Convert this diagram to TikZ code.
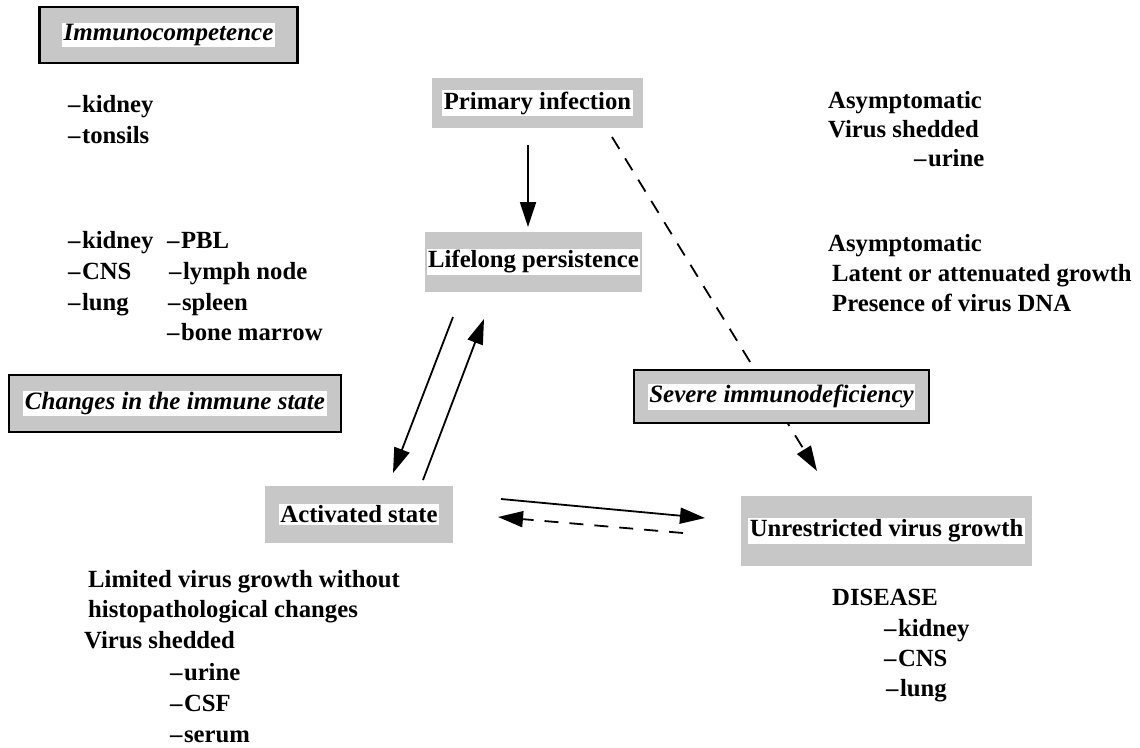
\documentclass[tikz,border=0pt]{standalone}
\usepackage{fontspec}
\setmainfont{Liberation Serif}
\usetikzlibrary{arrows.meta}
\newcommand\wbox[1]{{\setlength\fboxsep{1.5pt}\colorbox{white}{#1}}}
\newcommand\dsh{--\kern1.5pt}
\begin{document}
\begin{tikzpicture}[x=1pt,y=-1pt,
  txt/.style={anchor=base west, inner sep=0pt, font=\fontsize{24.7}{28}\selectfont\bfseries},
  shadebox/.style={fill=black!22, inner sep=0pt, font=\fontsize{24.7}{28}\selectfont\bfseries},
  framebox/.style={shadebox, draw=black, line width=2.2pt, font=\fontsize{25}{28}\selectfont\bfseries\itshape},
  conn/.style={line width=1.8pt, -{Triangle[length=25pt,width=16pt]}},
  dconn/.style={conn, dash pattern=on 14pt off 11pt},
]
\useasboundingbox (0,0) rectangle (1140,747);

% connector end points
\coordinate (pi-s) at (528,145);
\coordinate (lp-n) at (528,227);
\coordinate (pi-se) at (612,137);
\coordinate (uvg-n) at (817,471);
\coordinate (lp-sa) at (453,317);
\coordinate (as-na) at (393,473);
\coordinate (as-nb) at (423,480);
\coordinate (lp-sb) at (484,319);
\coordinate (as-ea) at (501,499);
\coordinate (uvg-wa) at (705,518);
\coordinate (uvg-wb) at (683,533);
\coordinate (as-eb) at (498,517);

% dashed link drawn first so the box covers it
\draw[dconn] (pi-se) -- (uvg-n);

% boxes
\node[framebox, minimum width=258pt, minimum height=56pt] (imm) at (168.5,35) {\wbox{Immunocompetence}};
\node[framebox, minimum width=332pt, minimum height=57pt] (chg) at (175,403.5) {\wbox{Changes in the immune state}};
\node[framebox, minimum width=295pt, minimum height=53pt] (sev) at (781.5,396.5) {\wbox{Severe immunodeficiency}};
\node[shadebox, minimum width=211pt, minimum height=50pt] (pi) at (537.5,103) {\wbox{Primary infection}};
\node[shadebox, minimum width=217pt, minimum height=60pt] (lp) at (533.5,262) {\wbox{Lifelong persistence}};
\node[shadebox, minimum width=188pt, minimum height=57pt] (as) at (359,514.5) {\wbox{Activated state}};
\node[shadebox, minimum width=291pt, minimum height=70pt] (uvg) at (886.5,531) {\wbox{Unrestricted virus growth}};

% connectors
\draw[conn] (pi-s) -- (lp-n);
\draw[conn] (lp-sa) -- (as-na);
\draw[conn] (as-nb) -- (lp-sb);
\draw[conn] (as-ea) -- (uvg-wa);
\draw[dconn] (uvg-wb) -- (as-eb);

% top-left list
\node[txt] (t1) at (68,112) {\dsh kidney};
\node[txt] (t2) at (68,143) {\dsh tonsils};

% second list
\node[txt] (l1) at (68,248) {\dsh kidney};
\node[txt] (l2) at (68,279) {\dsh CNS};
\node[txt] (l3) at (68,310) {\dsh lung};
\node[txt] (r1) at (167,248) {\dsh PBL};
\node[txt] (r2) at (169,279) {\dsh lymph node};
\node[txt] (r3) at (168,310) {\dsh spleen};
\node[txt] (r4) at (167,340) {\dsh bone marrow};

% right texts
\node[txt] (a1) at (828,108) {Asymptomatic};
\node[txt] (a2) at (828,137) {Virus shedded};
\node[txt] (a3) at (914,166) {\dsh urine};
\node[txt] (b1) at (828,251) {Asymptomatic};
\node[txt] (b2) at (832,281) {Latent or attenuated growth};
\node[txt] (b3) at (832,311) {Presence of virus DNA};

% bottom left
\node[txt] (c1) at (88,587) {Limited virus growth without};
\node[txt] (c2) at (88,617) {histopathological changes};
\node[txt] (c3) at (84,648) {Virus shedded};
\node[txt] (c4) at (170,680) {\dsh urine};
\node[txt] (c5) at (170,711) {\dsh CSF};
\node[txt] (c6) at (170,742) {\dsh serum};

% bottom right
\node[txt] (d1) at (832,605) {DISEASE};
\node[txt] (d2) at (884,636) {\dsh kidney};
\node[txt] (d3) at (884,666) {\dsh CNS};
\node[txt] (d4) at (886,696) {\dsh lung};
\end{tikzpicture}
\end{document}
